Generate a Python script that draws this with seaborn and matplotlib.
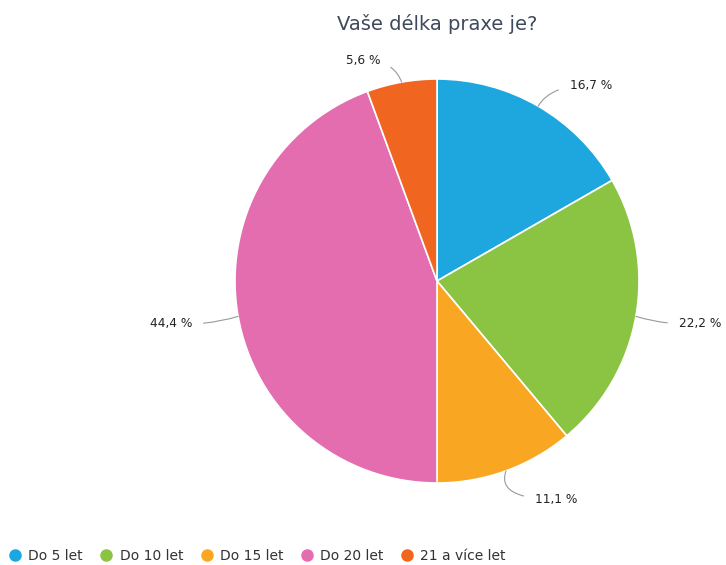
import matplotlib
matplotlib.use('Agg')
import matplotlib.pyplot as plt
import seaborn as sns
import numpy as np

# data
categories = ['Do 5 let', 'Do 10 let', 'Do 15 let', 'Do 20 let', '21 a více let']
shares = [16.7, 22.2, 11.1, 44.4, 5.6]
colors = ['#1ea7df', '#8bc443', '#f9a723', '#e46daf', '#f0651f']
label_pos = [(0.657, 0.97), (1.198, -0.208), (0.485, -1.08), (-1.213, -0.208), (-0.282, 1.094)]
label_ha = ['left', 'left', 'left', 'right', 'right']
label_conn = ['angle3,angleA=0,angleB=60', 'arc3,rad=-0.1', 'angle3,angleA=0,angleB=70',
              'arc3,rad=0.1', 'angle3,angleA=0,angleB=-70']

sns.set_theme(style='white')
plt.rcParams['font.family'] = ['DejaVu Sans']

fig = plt.figure(figsize=(7.26, 5.65), dpi=100)
ax = fig.add_axes([(437 - 202) / 726, (565 - 281 - 202) / 565, 404 / 726, 404 / 565])

wedges, _ = ax.pie(shares, colors=colors, startangle=90, counterclock=False,
                   wedgeprops=dict(edgecolor='white', linewidth=1.2))
ax.set_xlim(-1, 1)
ax.set_ylim(-1, 1)
ax.set_aspect('equal')
ax.axis('off')

for w, val, pos, ha, conn in zip(wedges, shares, label_pos, label_ha, label_conn):
    ang = np.deg2rad((w.theta1 + w.theta2) / 2)
    xy = (np.cos(ang), np.sin(ang))
    txt = f"{val:.1f} %".replace('.', ',')
    ax.annotate(txt, xy=xy, xytext=pos, ha=ha, va='center', fontsize=8.7,
                color='#222222',
                arrowprops=dict(arrowstyle='-', color='#999999', lw=0.8,
                                shrinkA=6, shrinkB=0, connectionstyle=conn))

fig.text(437 / 726, 1 - 24 / 565, 'Vaše délka praxe je?', ha='center', va='center',
         fontsize=14, color='#3e4a5b')

handles = [plt.Line2D([], [], marker='o', linestyle='', markersize=8,
                      markerfacecolor=c, markeredgecolor=c) for c in colors]
fig.legend(handles, categories, loc='center left', bbox_to_anchor=(8 / 726, 1 - 556 / 565),
           ncol=5, frameon=False, fontsize=10, handletextpad=0.45, columnspacing=1.2,
           labelcolor='#333333', handlelength=1.0, borderaxespad=0, borderpad=0)

fig.savefig('out.png', dpi=100)
